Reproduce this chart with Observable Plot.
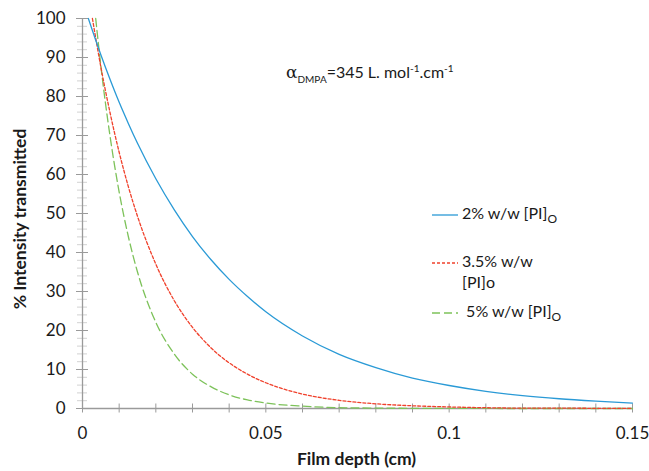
<!DOCTYPE html>
<html>
<head>
<meta charset="utf-8">
<script src="https://cdn.jsdelivr.net/npm/d3@7"></script>
<script src="https://cdn.jsdelivr.net/npm/@observablehq/plot@0.6"></script>
<style>
  body { margin: 0; background: #fff; }
  #wrap { position: relative; width: 649px; height: 471px; font-family: Lato, "Open Sans", sans-serif; color: #1a1a1a; }
  .abs { position: absolute; white-space: nowrap; }
  .ttl { font-weight: bold; font-size: 17.5px; }
  .leg { font-size: 16px; line-height: 21px; }
  .ann { font-size: 16px; }
</style>
</head>
<body>
<div id="wrap"></div>
<script>
// ---- data ----
const depth2 = [0.0016, 0.005, 0.0075, 0.01, 0.0125, 0.015, 0.02, 0.025, 0.03, 0.035, 0.04, 0.045, 0.05, 0.06, 0.07, 0.08, 0.09, 0.1, 0.11, 0.12, 0.13, 0.14, 0.15];
const pct2   = [100, 90.7, 84.4, 78.5, 73.1, 68.0, 58.9, 51.0, 44.1, 38.2, 33.1, 28.7, 24.8, 18.6, 13.9, 10.5, 7.8, 5.9, 4.4, 3.3, 2.5, 1.9, 1.4];

const depth35 = [0.0027, 0.005, 0.0075, 0.01, 0.0125, 0.015, 0.02, 0.025, 0.03, 0.035, 0.04, 0.045, 0.05, 0.06, 0.07, 0.08, 0.09, 0.1, 0.11, 0.12, 0.13, 0.14, 0.15];
const pct35   = [100, 87.6, 75.9, 65.7, 56.9, 49.3, 37.0, 27.7, 20.8, 15.6, 11.7, 8.8, 6.6, 3.7, 2.1, 1.2, 0.7, 0.4, 0.2, 0.1, 0.1, 0.05, 0.05];

const depth5 = [0.0036, 0.005, 0.0075, 0.01, 0.0125, 0.015, 0.02, 0.025, 0.03, 0.035, 0.04, 0.045, 0.05, 0.06, 0.07, 0.08, 0.09, 0.1, 0.11, 0.12, 0.13, 0.14, 0.15];
const pct5   = [100, 87.9, 69.9, 55.5, 44.1, 35.0, 22.1, 14.0, 8.8, 5.6, 3.5, 2.2, 1.4, 0.6, 0.2, 0.1, 0.05, 0.02, 0.01, 0, 0, 0, 0];

const seriesNames = ["2% w/w [PI]o", "3.5% w/w [PI]o", "5% w/w [PI]o"];
const xMajorTicks = [0, 0.05, 0.1, 0.15];
const xTickLabels = ["0", "0.05", "0.1", "0.15"];
const xMinorTicks = [0, 0.01, 0.02, 0.03, 0.04, 0.05, 0.06, 0.07, 0.08, 0.09, 0.1, 0.11, 0.12, 0.13, 0.14, 0.15];
const yMajorTicks = [0, 10, 20, 30, 40, 50, 60, 70, 80, 90, 100];
const yMinorTicks = [2, 4, 6, 8, 12, 14, 16, 18, 22, 24, 26, 28, 32, 34, 36, 38, 42, 44, 46, 48, 52, 54, 56, 58, 62, 64, 66, 68, 72, 74, 76, 78, 82, 84, 86, 88, 92, 94, 96, 98];

// ---- build ----
const toRows = (xs, ys) => xs.map((x, i) => ({x, y: ys[i]}));
const s2 = toRows(depth2, pct2), s35 = toRows(depth35, pct35), s5 = toRows(depth5, pct5);

const BLUE = "#2a9ad6", RED = "#f0412c", GREEN = "#7dc25a", AXIS = "#9a9a9a";

const chart = Plot.plot({
  width: 649, height: 471,
  marginLeft: 82, marginRight: 17, marginTop: 18, marginBottom: 63,
  x: {domain: [0, 0.15]},
  y: {domain: [0, 100]},
  style: {fontFamily: "Lato, 'Open Sans', sans-serif", fontSize: "17px", color: "#1a1a1a", background: "transparent"},
  marks: [
    Plot.axisY({ticks: yMinorTicks, tickSize: 10, dx: 5, text: null, label: null, stroke: "#d2d2d2"}),
    Plot.axisY({ticks: yMajorTicks, tickSize: 12, dx: 6, text: null, label: null, stroke: AXIS}),
    Plot.axisY({ticks: yMajorTicks, tickSize: 0, tickPadding: 17, label: null, tickFormat: d => String(d)}),
    Plot.axisX({ticks: xMinorTicks, tickSize: 9, dy: -4.5, text: null, label: null, stroke: AXIS}),
    Plot.axisX({ticks: xMajorTicks, tickSize: 0, tickPadding: 18, label: null, tickFormat: d => xTickLabels[xMajorTicks.indexOf(d)]}),
    Plot.ruleX([0], {y1: 0, y2: 100, stroke: AXIS, strokeWidth: 1.3}),
    Plot.ruleY([0], {x1: 0, x2: 0.15, stroke: AXIS, strokeWidth: 1.3}),
    Plot.line(s5, {x: "x", y: "y", stroke: GREEN, strokeWidth: 1.3, strokeDasharray: "8,4", curve: "monotone-x"}),
    Plot.line(s35, {x: "x", y: "y", stroke: RED, strokeWidth: 1.3, strokeDasharray: "3,2", curve: "monotone-x"}),
    Plot.line(s2, {x: "x", y: "y", stroke: BLUE, strokeWidth: 1.3, curve: "monotone-x"})
  ]
});

const wrap = document.getElementById("wrap");
chart.style.position = "absolute";
chart.style.left = "0px";
chart.style.top = "0px";
wrap.appendChild(chart);

function addDiv(cls, html, css) {
  const d = document.createElement("div");
  d.className = "abs " + cls;
  d.innerHTML = html;
  Object.assign(d.style, css);
  wrap.appendChild(d);
  return d;
}
const sample = (color, dash) => `<svg width="26" height="4" style="vertical-align:middle;margin-right:4px"><line x1="0" x2="26" y1="2" y2="2" stroke="${color}" stroke-width="1.3" ${dash ? `stroke-dasharray="${dash}"` : ""}/></svg>`;

// axis titles
addDiv("ttl", "Film depth (cm)", {left: "0px", width: "649px", textAlign: "center", top: "448px", paddingLeft: "64px", boxSizing: "border-box"});
addDiv("ttl", "% Intensity transmitted", {left: "19px", top: "219px", transform: "translate(-50%,-50%) rotate(-90deg)"});

// annotation
addDiv("ann", `<span style="font-family:'DejaVu Serif',serif;font-size:17px">&alpha;</span><sub style="font-size:10px">DMPA</sub>=345 L. mol<sup style="font-size:10px">-1</sup>.cm<sup style="font-size:10px">-1</sup>`, {left: "286px", top: "62px"});

// legend
addDiv("leg", sample(BLUE) + "2% w/w [PI]<sub style='font-size:12px'>O</sub>", {left: "432px", top: "202px"});
addDiv("leg", sample(RED, "3,2") + "3.5% w/w<br><span style='padding-left:30px'>[PI]o</span>", {left: "432px", top: "250px"});
addDiv("leg", sample(GREEN, "8,4") + " 5% w/w [PI]<sub style='font-size:12px'>O</sub>", {left: "432px", top: "300px"});
</script>
</body>
</html>
